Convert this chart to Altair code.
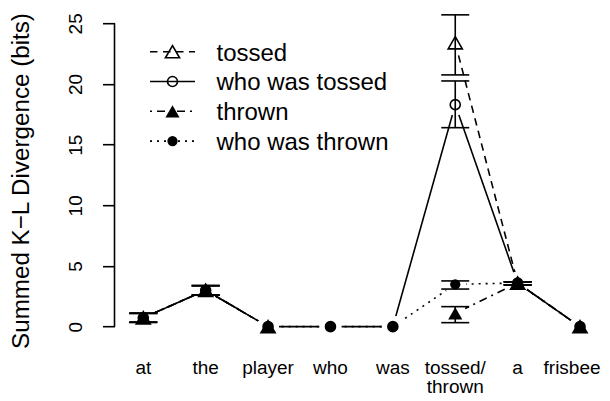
import altair as alt
import pandas as pd

# ---- data ----
words = ["at", "the", "player", "who", "was", "tossed/\nthrown", "a", "frisbee"]
series_names = ["tossed", "who was tossed", "thrown", "who was thrown"]

tossed = [0.73, 3.0, 0.0, None, None, 23.4, 3.6, 0.0]
tossed_lo = [0.36, 2.6, None, None, None, 20.75, 3.45, None]
tossed_hi = [1.1, 3.38, None, None, None, 25.7, 3.7, None]

who_tossed = [0.73, 3.0, 0.0, 0.0, 0.0, 18.3, 3.6, 0.0]
who_tossed_lo = [0.36, 2.6, None, None, None, 16.4, 3.45, None]
who_tossed_hi = [1.1, 3.38, None, None, None, 20.25, 3.7, None]

thrown = [0.73, 3.0, 0.0, None, None, 1.1, 3.6, 0.0]
thrown_lo = [0.36, 2.6, None, None, None, 0.33, 3.45, None]
thrown_hi = [1.1, 3.38, None, None, None, 1.65, 3.7, None]

who_thrown = [0.73, 3.0, 0.0, 0.0, 0.0, 3.49, 3.6, 0.0]
who_thrown_lo = [0.36, 2.6, None, None, None, 3.1, 3.45, None]
who_thrown_hi = [1.1, 3.38, None, None, None, 3.77, 3.7, None]

y_ticks = [0, 5, 10, 15, 20, 25]

# ---- styles ----
FONT = "Liberation Sans"
LW = 1.6
dashes = {
    "tossed": [7.5, 5.5],
    "who was tossed": [1, 0],
    "thrown": [2, 5, 8, 5],
    "who was thrown": [2, 5],
}
markers = {
    "tossed": ("triangle-up", False, 200),
    "who was tossed": ("circle", False, 100),
    "thrown": ("triangle-up", True, 200),
    "who was thrown": ("circle", True, 105),
}
draw_order = ["tossed", "who was tossed", "who was thrown", "thrown"]

values = {
    "tossed": (tossed, tossed_lo, tossed_hi),
    "who was tossed": (who_tossed, who_tossed_lo, who_tossed_hi),
    "thrown": (thrown, thrown_lo, thrown_hi),
    "who was thrown": (who_thrown, who_thrown_lo, who_thrown_hi),
}

rows = []
for s in series_names:
    v, lo, hi = values[s]
    seg = 0
    for i, val in enumerate(v):
        if val is None:
            seg += 1
            continue
        rows.append({"series": s, "idx": i + 1, "value": val,
                     "lo": lo[i], "hi": hi[i], "key": f"{s}-{seg}"})
df = pd.DataFrame(rows)
words_df = pd.DataFrame({"word": words, "idx": list(range(1, len(words) + 1))})

W, H = 487.0, 327.6
xs = alt.Scale(domain=[0.5384, 0.5384 + W / 62.39], nice=False, zero=False)
ys = alt.Scale(domain=[-1, 26], nice=False, zero=False)

base = alt.Chart(df)

yaxis = alt.Axis(
    values=y_ticks, domain=False, grid=False, tickSize=12, tickWidth=LW,
    tickColor="black", labelAngle=270, labelAlign="center",
    labelBaseline="alphabetic", labelPadding=21, labelFontSize=19,
    labelFont=FONT, labelColor="black", labelOverlap=False,
    title="Summed K\u2212L Divergence (bits)", titleFontSize=24.2,
    titleFont=FONT, titleFontWeight="normal", titleColor="black",
    titleAngle=270, titleX=-86.5, titleY=169.3, titleAlign="center",
    titleBaseline="alphabetic",
)

lines = base.mark_line(strokeWidth=LW, color="black").encode(
    x=alt.X("idx:Q", scale=xs, axis=None),
    y=alt.Y("value:Q", scale=ys, axis=yaxis),
    strokeDash=alt.StrokeDash("series:N", scale=alt.Scale(
        domain=series_names, range=[dashes[s] for s in series_names]), legend=None),
    detail="key:N",
    order="idx:Q",
)

halos = base.mark_circle(color="white", opacity=1, size=480).encode(
    x=alt.X("idx:Q", scale=xs, axis=None),
    y=alt.Y("value:Q", scale=ys),
)

err = base.transform_filter("isValid(datum.lo)")
err_rule = err.mark_rule(color="black", strokeWidth=LW).encode(
    x=alt.X("idx:Q", scale=xs, axis=None),
    y=alt.Y("lo:Q", scale=ys),
    y2="hi:Q",
)
cap_lo = err.mark_tick(orient="horizontal", size=28, thickness=LW, color="black", opacity=1).encode(
    x=alt.X("idx:Q", scale=xs, axis=None),
    y=alt.Y("lo:Q", scale=ys),
)
cap_hi = err.mark_tick(orient="horizontal", size=28, thickness=LW, color="black", opacity=1).encode(
    x=alt.X("idx:Q", scale=xs, axis=None),
    y=alt.Y("hi:Q", scale=ys),
)

point_layers = []
for s in draw_order:
    shape, filled, size = markers[s]
    point_layers.append(
        base.transform_filter(alt.datum.series == s).mark_point(
            shape=shape, filled=filled, size=size, color="black", opacity=1,
            strokeWidth=LW if not filled else 0.5,
        ).encode(
            x=alt.X("idx:Q", scale=xs, axis=None),
            y=alt.Y("value:Q", scale=ys),
        )
    )

yaxis_line = alt.Chart(pd.DataFrame({"lo": [y_ticks[0]], "hi": [y_ticks[-1]]})).mark_rule(
    color="black", strokeWidth=LW).encode(
    x=alt.value(0),
    y=alt.Y("lo:Q", scale=ys),
    y2="hi:Q",
)

label_kw = dict(font=FONT, fontSize=19, baseline="alphabetic", align="center",
                lineBreak="\n", lineHeight=19, color="black")
labels = alt.Chart(words_df.iloc[:-1]).mark_text(**label_kw).encode(
    x=alt.X("idx:Q", scale=xs, axis=None),
    y=alt.value(362.8),
    text="word:N",
)
# last word sits at the right edge; nudge it so it is not clipped
labels_last = alt.Chart(words_df.iloc[-1:]).mark_text(dx=-8, **label_kw).encode(
    x=alt.X("idx:Q", scale=xs, axis=None),
    y=alt.value(362.8),
    text="word:N",
)

# ---- legend drawn by hand (top left) ----
legend_layers = []
for i, s in enumerate(series_names):
    yy = 40.5 + 29.8 * i
    ldf = pd.DataFrame({"series": [s]})
    shape, filled, size = markers[s]
    legend_layers.append(alt.Chart(ldf).mark_rule(
        color="black", strokeWidth=LW, strokeDash=dashes[s]).encode(
        x=alt.value(35.5), x2=alt.value(80.5), y=alt.value(yy)))
    legend_layers.append(alt.Chart(ldf).mark_point(
        shape=shape, filled=filled, size=size, color="black", opacity=1,
        strokeWidth=LW if not filled else 0.5).encode(
        x=alt.value(58), y=alt.value(yy)))
    legend_layers.append(alt.Chart(ldf).mark_text(
        font=FONT, fontSize=24, align="left", baseline="alphabetic", color="black").encode(
        x=alt.value(102), y=alt.value(yy + 9), text="series:N"))

chart = alt.layer(
    yaxis_line, lines, halos, err_rule, cap_lo, cap_hi, *point_layers,
    labels, labels_last, *legend_layers
).properties(
    width=W, height=H,
    autosize=alt.AutoSizeParams(type="none"),
    padding={"left": 106.5, "top": 3.2, "right": 0, "bottom": 59},
).configure_view(stroke=None)

chart.save("out.html", embed_options={"renderer": "svg", "actions": False})
